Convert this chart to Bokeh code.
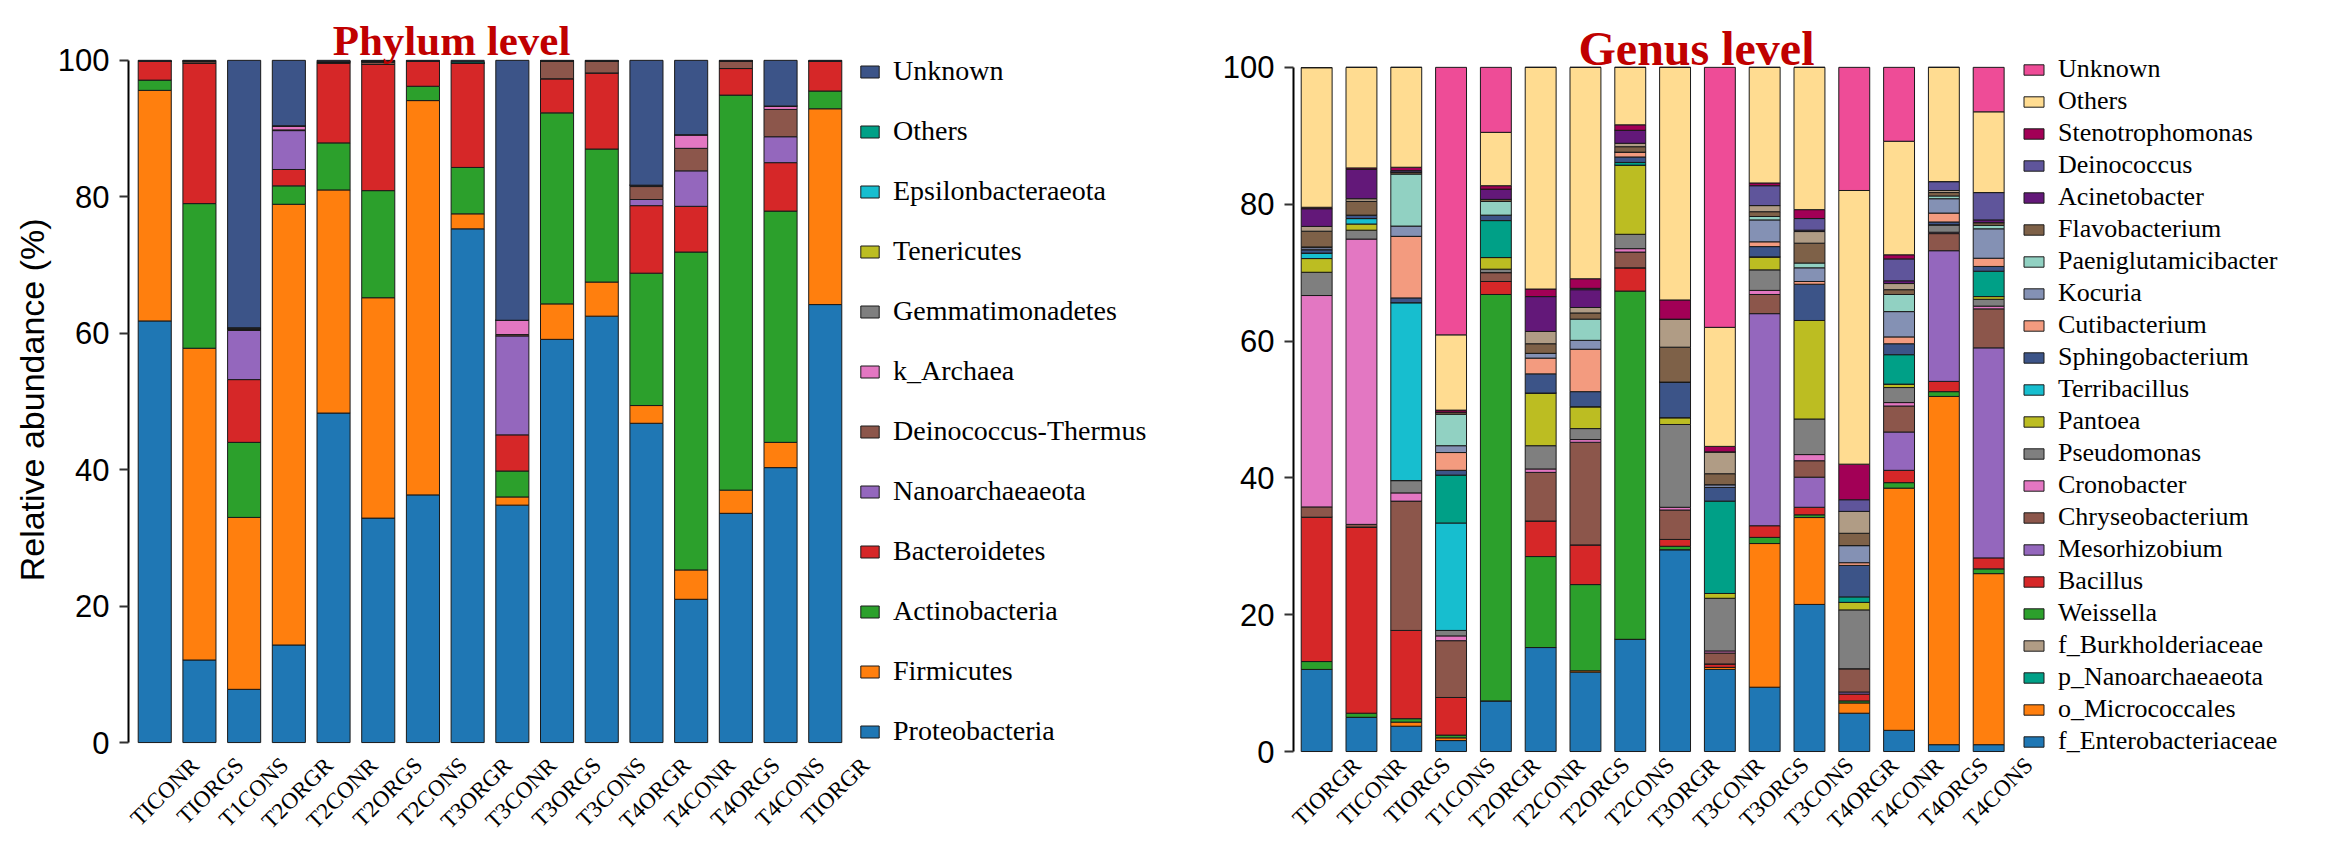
from math import pi
from bokeh.plotting import figure
from bokeh.models import (Range1d, LinearAxis, FixedTicker, Legend, LegendItem,
                          ColumnDataSource, Label)
from bokeh.layouts import row
from bokeh.embed import file_html
from bokeh.resources import INLINE

# ---------------- Phylum level data ----------------
phylum_samples = ["TICONR", "TIORGS", "T1CONS", "T2ORGR", "T2CONR", "T2ORGS", "T2CONS", "T3ORGR",
                  "T3CONR", "T3ORGS", "T3CONS", "T4ORGR", "T4CONR", "T4ORGS", "T4CONS", "TIORGR"]
proteobacteria = [61.8, 12.1, 7.8, 14.3, 48.3, 32.9, 36.3, 75.3, 34.8, 59.1, 62.5, 46.8, 21.0, 33.6, 40.3, 64.2]
firmicutes = [33.8, 45.7, 25.2, 64.6, 32.7, 32.3, 57.8, 2.2, 1.2, 5.2, 5.0, 2.6, 4.3, 3.4, 3.7, 28.7]
actinobacteria = [1.5, 21.2, 11.0, 2.7, 6.9, 15.7, 2.1, 6.8, 3.8, 28.0, 19.5, 19.4, 46.6, 57.9, 33.9, 2.6]
bacteroidetes = [2.75, 20.6, 9.2, 2.4, 11.7, 18.5, 3.65, 15.3, 5.3, 5.0, 11.15, 9.9, 6.7, 3.9, 7.1, 4.35]
nanoarchaeaeota = [0, 0, 7.2, 5.7, 0, 0, 0, 0, 14.5, 0, 0, 0.9, 5.2, 0, 3.8, 0]
deinococcus_thermus = [0, 0.3, 0.2, 0.1, 0.2, 0.3, 0, 0, 0.2, 2.6, 1.75, 1.9, 3.3, 1.1, 4.0, 0]
k_archaea = [0, 0, 0, 0.6, 0, 0, 0, 0, 2.1, 0, 0, 0.2, 2.0, 0, 0.5, 0]
gemmatimonadetes = [0, 0, 0.2, 0, 0, 0.2, 0, 0, 0, 0, 0, 0, 0, 0, 0, 0]
tenericutes = [0, 0, 0, 0, 0, 0, 0, 0, 0, 0, 0, 0, 0, 0, 0, 0]
epsilonbacteraeota = [0, 0, 0, 0, 0, 0, 0, 0, 0, 0, 0, 0, 0, 0, 0, 0]
phylum_others = [0, 0, 0, 0, 0, 0, 0, 0.2, 0, 0, 0, 0, 0, 0, 0, 0]
phylum_unknown = [0.15, 0.1, 39.2, 9.6, 0.2, 0.1, 0.15, 0.2, 38.1, 0.1, 0.1, 18.3, 10.9, 0.1, 6.7, 0.15]

phylum_stack = [
    ("Proteobacteria", proteobacteria, "#1F77B4"),
    ("Firmicutes", firmicutes, "#FF7F0E"),
    ("Actinobacteria", actinobacteria, "#2CA02C"),
    ("Bacteroidetes", bacteroidetes, "#D62728"),
    ("Nanoarchaeaeota", nanoarchaeaeota, "#9467BD"),
    ("Deinococcus-Thermus", deinococcus_thermus, "#8C564B"),
    ("k_Archaea", k_archaea, "#E377C2"),
    ("Gemmatimonadetes", gemmatimonadetes, "#7F7F7F"),
    ("Tenericutes", tenericutes, "#BCBD22"),
    ("Epsilonbacteraeota", epsilonbacteraeota, "#17BECF"),
    ("Others", phylum_others, "#00A087"),
    ("Unknown", phylum_unknown, "#3C5488"),
]
phylum_legend_order = ["Unknown", "Others", "Epsilonbacteraeota", "Tenericutes", "Gemmatimonadetes",
                       "k_Archaea", "Deinococcus-Thermus", "Nanoarchaeaeota", "Bacteroidetes",
                       "Actinobacteria", "Firmicutes", "Proteobacteria"]

# ---------------- Genus level data ----------------
genus_samples = ["TIORGR", "TICONR", "TIORGS", "T1CONS", "T2ORGR", "T2CONR", "T2ORGS", "T2CONS",
                 "T3ORGR", "T3CONR", "T3ORGS", "T3CONS", "T4ORGR", "T4CONR", "T4ORGS", "T4CONS"]
f_enterobacteriaceae = [12.0, 5.0, 3.7, 1.6, 7.4, 15.2, 11.6, 16.4, 29.5, 12.0, 9.4, 21.5, 5.6, 3.1, 1.0, 1.0]
o_micrococcales = [0, 0, 0.6, 0.4, 0, 0, 0.2, 0, 0, 0.3, 21.0, 12.7, 1.5, 35.4, 50.9, 25.0]
weissella = [1.15, 0.6, 0.5, 0.4, 59.4, 13.3, 12.6, 50.9, 0.5, 0, 0.9, 0.4, 0.3, 0.8, 0.7, 0.7]
bacillus = [21.1, 27.2, 12.9, 5.5, 1.9, 5.2, 5.8, 3.4, 1.0, 0.5, 1.7, 1.1, 1.0, 1.8, 1.5, 1.6]
mesorhizobium = [0, 0, 0, 0, 0, 0, 0, 0, 0, 0, 31.0, 4.4, 0.3, 5.6, 19.1, 30.7]
chryseobacterium = [1.5, 0.4, 18.9, 8.3, 1.3, 7.1, 15.0, 2.3, 4.3, 1.6, 2.8, 2.4, 3.4, 3.8, 2.5, 5.7]
cronobacter = [30.9, 41.7, 1.2, 0.7, 0, 0.5, 0.4, 0.5, 0.4, 0.3, 0.6, 0.9, 0, 0.5, 0.2, 0.4]
pseudomonas = [3.4, 1.3, 1.8, 0.8, 0.5, 3.4, 1.6, 2.1, 12.1, 7.7, 3.0, 5.2, 8.6, 2.2, 1.1, 1.0]
pantoea = [2.0, 0.9, 0, 0, 1.7, 7.7, 3.2, 10.1, 1.0, 0.7, 1.9, 14.4, 1.1, 0.5, 0, 0.4]
terribacillus = [0.8, 0.8, 26.0, 15.7, 0, 0, 0, 0, 0, 0, 0, 0, 0, 0, 0, 0]
p_nanoarchaeaeota = [0, 0, 0, 7.0, 5.4, 0, 0, 0.4, 0, 13.5, 0, 0, 0.8, 4.3, 0, 3.7]
sphingobacterium = [0.5, 0.5, 0.7, 0.7, 0.8, 2.8, 2.2, 0.8, 5.2, 2.0, 1.5, 5.3, 4.6, 1.6, 0.4, 0.7]
cutibacterium = [0, 0, 9.0, 2.6, 0, 2.3, 6.2, 0.7, 0, 0, 0.7, 0.4, 0.4, 1.0, 1.3, 1.2]
kocuria = [0.3, 0, 1.5, 1.0, 0, 0.7, 1.3, 0, 0, 0.4, 3.2, 2.0, 2.5, 3.7, 2.1, 4.3]
paeniglutamicibacter = [0.1, 0, 7.6, 4.6, 2.0, 0, 3.1, 0, 0, 0, 0.5, 0.7, 0, 2.5, 0.4, 0.5]
flavobacterium = [2.3, 2.0, 0.3, 0.3, 0.3, 1.4, 0.9, 0.8, 5.1, 1.6, 0.7, 2.9, 1.8, 0.7, 0.5, 0.4]
f_burkholderiaceae = [0.7, 0.4, 0, 0, 0, 1.8, 0.8, 0.5, 4.1, 3.2, 0.9, 1.7, 3.2, 0.9, 0.3, 0]
acinetobacter = [2.6, 4.3, 0, 0, 1.5, 5.1, 2.6, 1.9, 0, 0, 0, 0.2, 0, 0.4, 0, 0.4]
deinococcus = [0, 0, 0.2, 0, 0, 0, 0.2, 0, 0, 0, 2.9, 1.7, 1.7, 3.2, 1.3, 4.0]
stenotrophomonas = [0.2, 0.2, 0.5, 0.3, 0.5, 1.1, 1.4, 0.8, 2.8, 0.8, 0.4, 1.3, 5.2, 0.6, 0, 0]
genus_others = [20.4, 14.7, 14.6, 11.0, 7.8, 32.4, 30.9, 8.4, 34.0, 17.4, 16.9, 20.8, 40.0, 16.6, 16.7, 11.8]
genus_unknown = [0, 0, 0, 39.1, 9.5, 0, 0, 0, 0, 38.0, 0, 0, 18.0, 10.8, 0, 6.5]

genus_stack = [
    ("f_Enterobacteriaceae", f_enterobacteriaceae, "#1F77B4"),
    ("o_Micrococcales", o_micrococcales, "#FF7F0E"),
    ("Weissella", weissella, "#2CA02C"),
    ("Bacillus", bacillus, "#D62728"),
    ("Mesorhizobium", mesorhizobium, "#9467BD"),
    ("Chryseobacterium", chryseobacterium, "#8C564B"),
    ("Cronobacter", cronobacter, "#E377C2"),
    ("Pseudomonas", pseudomonas, "#7F7F7F"),
    ("Pantoea", pantoea, "#BCBD22"),
    ("Terribacillus", terribacillus, "#17BECF"),
    ("p_Nanoarchaeaeota", p_nanoarchaeaeota, "#00A087"),
    ("Sphingobacterium", sphingobacterium, "#3C5488"),
    ("Cutibacterium", cutibacterium, "#F39B7F"),
    ("Kocuria", kocuria, "#8491B4"),
    ("Paeniglutamicibacter", paeniglutamicibacter, "#91D1C2"),
    ("Flavobacterium", flavobacterium, "#7E6148"),
    ("f_Burkholderiaceae", f_burkholderiaceae, "#B09C85"),
    ("Acinetobacter", acinetobacter, "#631879"),
    ("Deinococcus", deinococcus, "#5F559B"),
    ("Stenotrophomonas", stenotrophomonas, "#A20056"),
    ("Others", genus_others, "#FFDC91"),
    ("Unknown", genus_unknown, "#EE4C97"),
]
genus_legend_order = ["Unknown", "Others", "Stenotrophomonas", "Deinococcus", "Acinetobacter",
                      "Flavobacterium", "Paeniglutamicibacter", "Kocuria", "Cutibacterium",
                      "Sphingobacterium", "Terribacillus", "Pantoea", "Pseudomonas", "Cronobacter",
                      "Chryseobacterium", "Mesorhizobium", "Bacillus", "Weissella",
                      "f_Burkholderiaceae", "p_Nanoarchaeaeota", "o_Micrococcales", "f_Enterobacteriaceae"]

y_ticks = [0, 20, 40, 60, 80, 100]

SERIF = "Liberation Serif"
SANS = "Liberation Sans"


def make_chart(samples, stack, legend_order, title, title_size, title_xy, width, height,
               border_left, border_bottom, x_range, y_range, bar_width, label_shift,
               legend_cfg, ylabel):
    n = len(samples)
    xs = list(range(1, n + 1))
    data = {"x": xs}
    keys = []
    for i, (name, vals, col) in enumerate(stack):
        k = "s%d" % i
        data[k] = vals
        keys.append(k)
    src = ColumnDataSource(data)
    x_start, x_end = x_range
    p = figure(width=width, height=height, x_range=Range1d(x_start, x_end),
               y_range=Range1d(*y_range), output_backend="svg", toolbar_location=None,
               x_axis_location=None, title=None, min_border_left=border_left,
               min_border_right=2, min_border_top=0, min_border_bottom=border_bottom)
    rends = p.vbar_stack(keys, x="x", width=bar_width, source=src,
                         color=[c for _, _, c in stack], line_color="#1a1a1a", line_width=1)
    by_name = {name: r for (name, _, _), r in zip(stack, rends)}

    p.xgrid.visible = False
    p.ygrid.visible = False
    p.outline_line_color = None
    p.background_fill_color = "white"
    p.border_fill_color = "white"

    # chart title (placed in data space above the 100% line)
    p.add_layout(Label(x=title_xy[0], y=title_xy[1], text=title, text_font=SERIF,
                       text_font_size=title_size, text_font_style="bold", text_color="#C00000",
                       text_align="left", text_baseline="alphabetic"))

    yax = p.yaxis[0]
    yax.bounds = (0, 100)
    yax.ticker = FixedTicker(ticks=y_ticks)
    yax.minor_tick_line_color = None
    yax.major_tick_in = 0
    yax.major_tick_out = 9
    yax.major_tick_line_width = 2
    yax.major_tick_line_color = "#333333"
    yax.axis_line_width = 2
    yax.axis_line_color = "black"
    yax.major_label_text_font = SANS
    yax.major_label_text_font_size = "31px"
    yax.major_label_text_color = "black"
    yax.major_label_standoff = 10
    if ylabel:
        yax.axis_label = ylabel
        yax.axis_label_text_font = SANS
        yax.axis_label_text_font_size = "34px"
        yax.axis_label_text_font_style = "normal"
        yax.axis_label_text_color = "black"
        yax.axis_label_standoff = 4

    # sample labels, on an axis whose range is shifted like the original labels
    p.extra_x_ranges = {"lab": Range1d(x_start - label_shift, x_end - label_shift)}
    xax = LinearAxis(x_range_name="lab", ticker=FixedTicker(ticks=xs),
                     major_label_overrides={x: s for x, s in zip(xs, samples)},
                     major_label_orientation=pi / 4)
    xax.axis_line_color = None
    xax.major_tick_line_color = None
    xax.minor_tick_line_color = None
    xax.major_tick_out = 0
    xax.major_tick_in = 0
    xax.major_label_text_font = SERIF
    xax.major_label_text_font_size = "23px"
    xax.major_label_text_color = "black"
    xax.major_label_standoff = 0
    p.add_layout(xax, "below")

    items = [LegendItem(label=name, renderers=[by_name[name]]) for name in legend_order]
    lg = Legend(items=items, **legend_cfg)
    lg.border_line_color = None
    lg.background_fill_alpha = 0
    lg.padding = 0
    lg.margin = 0
    lg.label_text_font = SERIF
    lg.label_text_color = "black"
    p.add_layout(lg)
    return p


# Phylum: 0% at page y 744, 100% at 60; frame spans page y 0..763
p1 = make_chart(phylum_samples, phylum_stack, phylum_legend_order, "Phylum level", "43px",
                title_xy=(4.98, 102.92), width=1160, height=845, border_left=128, border_bottom=82,
                x_range=(0.413, 23.455), y_range=(-2.778, 108.77), bar_width=0.74, label_shift=0.9,
                legend_cfg=dict(location=(730, 14), glyph_width=23, glyph_height=15,
                                label_standoff=12, spacing=28, label_text_font_size="28px"),
                ylabel="Relative abundance (%)\u00a0\u00a0\u00a0\u00a0")

# Genus: 0% at page y 753, 100% at 67; frame spans page y 0..763
p2 = make_chart(genus_samples, genus_stack, genus_legend_order, "Genus level", "48px",
                title_xy=(6.845, 102.77), width=1150, height=845, border_left=133, border_bottom=82,
                x_range=(0.483, 23.139), y_range=(-1.458, 109.77), bar_width=0.69, label_shift=0.9,
                legend_cfg=dict(location=(728, 5), glyph_width=25, glyph_height=13,
                                label_standoff=12, spacing=2, label_text_font_size="26px"),
                ylabel=None)

layout = row(p1, p2, spacing=0)
open("out.html", "w").write(file_html(layout, INLINE))
